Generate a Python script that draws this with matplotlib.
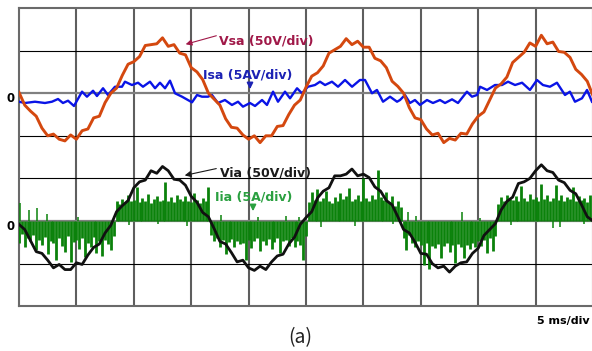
import numpy as np
import matplotlib
matplotlib.use("Agg")
import matplotlib.pyplot as plt

# ---- scope settings -------------------------------------------------------
time_per_div_ms = 5.0
volt_per_div = 50.0
amp_per_div = 5.0
n_xdiv = 10
n_ydiv = 7
top_zero = 5.0      # channel zero of upper pair (in divisions from bottom)
bottom_zero = 2.0   # channel zero of lower pair

# ---- source voltage Vsa (V), sampled every 0.5 ms ------------------------
v_step_ms = 0.5
vsa = [1, -14, -21, -27, -41, -50, -48, -54, -56, -49, -54, -44, -42, -29, -27, -11,
       0, 6, 21, 34, 37, 43, 56, 57, 58, 65, 55, 57, 47, 45, 30, 25,
       16, 0, -7, -14, -30, -40, -41, -49, -54, -50, -58, -50, -50, -39, -38, -25,
       -14, -8, 7, 20, 24, 32, 47, 51, 55, 64, 57, 61, 54, 54, 41, 38,
       30, 14, 8, 0, -17, -29, -31, -42, -49, -47, -58, -53, -55, -47, -48, -36,
       -27, -22, -8, 6, 11, 19, 36, 42, 48, 59, 55, 68, 58, 60, 49, 48,
       42, 28, 22, 14, -3]

# ---- source current Isa (A), ripple vertices ------------------------------
isa_t = [0.0, 0.52, 1.39, 2.26, 2.87, 3.40, 3.83, 4.27, 4.79, 5.49, 5.92, 6.45, 6.79,
         7.32, 7.75, 8.36, 8.97, 9.23, 9.84, 10.37, 10.80, 11.41, 11.85, 12.28, 12.72,
         13.15, 13.59, 14.20, 15.07, 15.51, 15.94, 16.46, 16.81, 17.33, 17.94, 18.55,
         19.08, 19.51, 20.12, 20.56, 21.17, 21.60, 22.13, 22.56, 23.17, 23.61, 24.22,
         24.65, 25.17, 25.78, 26.22, 26.66, 27.26, 27.79, 28.40, 29.01, 29.70, 30.14,
         30.75, 31.18, 31.71, 32.32, 32.93, 33.19, 33.62, 34.06, 34.49, 34.93, 35.54,
         36.06, 36.67, 37.11, 37.72, 38.24, 39.02, 39.46, 39.90, 40.16, 40.77, 41.46,
         42.07, 42.60, 43.21, 43.82, 44.51, 45.12, 45.64, 46.25, 46.86, 47.56, 47.99,
         48.43, 49.04, 49.48, 49.91]
isa_a = [-1.00, -1.15, -1.00, -1.15, -1.00, -0.68, -1.15, -0.88, -1.50, 0.18, -0.41, 0.29,
         -0.33, 0.58, -0.21, 0.76, 0.76, 1.35, 0.96, 1.23, 0.76, 1.35, 0.58, 1.23, 0.58,
         1.47, -0.01, -0.41, -1.07, -0.21, -0.41, -0.41, -0.21, -1.15, -0.80, -1.38,
         -1.00, -1.58, -1.15, -1.50, -0.80, -1.38, 0.18, -1.00, 0.18, -0.60, 0.58,
         -0.01, 0.76, 0.96, 1.35, 0.96, 1.35, 0.76, 1.55, 0.76, 1.55, 1.55,
         -0.01, 0.38, -1.00, -0.41, -1.00, -0.80, -0.21, -1.15, -0.80, -1.38, -0.80,
         -1.15, -0.80, -1.15, -0.72, -1.15, 0.18, -0.41, -0.21, 0.76, 0.38, 0.96,
         0.96, 1.35, 0.96, 1.23, 0.38, 1.55, 0.96, 0.76, 1.23, -0.21, 0.18,
         -1.00, -0.60, 0.38, -1.00]

# ---- inverter voltage Via (V), sampled every 0.5 ms -----------------------
via = [-4, -10, -23, -36, -38, -46, -55, -51, -57, -57, -49, -51, -40, -31, -27, -14,
       -5, 11, 18, 24, 39, 46, 48, 59, 56, 64, 59, 49, 48, 42, 29, 22,
       10, 5, -9, -24, -27, -37, -48, -46, -55, -58, -53, -57, -48, -41, -39, -27,
       -19, -4, 4, 11, 27, 35, 39, 53, 53, 55, 61, 53, 55, 51, 40, 35,
       24, 19, 5, -10, -14, -25, -38, -39, -50, -55, -53, -60, -53, -49, -48, -38,
       -32, -17, -10, -3, 13, 23, 28, 44, 46, 50, 59, 66, 59, 57, 48, 45,
       36, 32, 19, 5, 0]

# ---- inverter current Iia (A), switching excursions every 0.25 ms --------
i_step_ms = 0.25
iia = [-2.6, -1.5, -3.1, -2.0, -2.4, -1.6, -3.4, -2.2, -2.8, -1.9, -3.9, -2.3, -2.6, -4.6,
       -2.0, -2.9, -3.6, -1.8, -4.8, -2.5, -2.2, -3.3, -2.0, -4.2, -2.6, -3.0, -1.9, -3.8,
       -2.4, -4.1, -2.2, -2.7, -3.4, -1.8,
       2.4, 2.0, 2.6, 2.2, 3.1, 2.3, 2.5, 4.0, 2.2, 2.7, 2.4, 3.2, 2.1, 2.6, 2.9, 2.3,
       2.5, 4.6, 2.4, 2.8, 2.2, 3.0, 2.6, 2.3, 2.9, 2.4, 2.2, 3.3, 2.5, 2.1, 2.7, 2.4, 4.0,
       -1.6, -2.4, -2.0, -3.1, -2.2, -3.9, -2.5, -2.1, -3.0, -2.3, -2.7, -2.6, -4.6, -2.2,
       -3.2, -2.4, -2.0, -3.5, -2.3, -2.8, -2.1, -3.3, -2.5, -2.0, -3.7, -2.4, -2.2, -2.9,
       -2.0, -3.1, -2.4, -2.8, -4.6, -1.8,
       2.2, 3.4, 2.5, 3.8, 2.3, 2.7, 3.5, 2.4, 2.1, 2.8, 2.4, 3.3, 2.6, 2.9, 3.9, 2.3,
       2.6, 3.1, 2.4, 5.0, 2.7, 2.3, 3.0, 2.6, 6.0, 2.8, 2.5, 3.4, 2.2, 2.9, 1.8, 2.4, 1.6,
       -2.0, -3.4, -1.7, -2.6, -3.0, -2.4, -2.8, -5.2, -2.6, -5.6, -2.9, -3.2, -2.7, -4.4,
       -2.9, -2.6, -3.6, -2.8, -4.9, -2.7, -3.1, -4.4, -2.8, -3.3, -2.6, -3.0, -2.4, -2.9,
       -2.2, -3.8, -2.0, -3.5, -1.8,
       2.0, 2.8, 2.4, 3.0, 2.6, 2.5, 2.9, 2.3, 4.1, 2.7, 2.4, 3.2, 2.6, 2.8, 2.4, 4.4,
       2.6, 3.0, 2.3, 2.7, 4.2, 2.5, 3.1, 2.4, 2.8, 2.6, 4.0, 2.3, 2.9, 2.5, 2.7, 2.2,
       3.0, 2.4]
# opposite-polarity switching spikes (time ms, current A)
iia_back_t = [0.1, 0.9, 1.6, 2.4, 5.1, 9.6, 12.1, 14.6, 17.6, 20.8, 23.3, 24.4,
              26.3, 29.3, 32.6, 33.9, 34.6, 38.6, 40.2, 42.9, 46.5, 47.1, 49.2]
iia_back_a = [2.1, 1.3, 1.5, 0.8, 0.5, -0.5, -0.4, -0.6, 0.7, 0.5, 0.6, 0.5,
              -0.7, -0.6, -0.4, 1.0, 0.6, 1.0, 0.4, -0.5, -0.8, -0.7, -0.4]

# ---- colours ----------------------------------------------------------------
c_vsa = "#d4480f"
c_isa = "#0a14e6"
c_via = "#111111"
c_iia = "#0b820b"
c_vsa_lbl = "#a01848"
c_isa_lbl = "#1c22b4"
c_iia_lbl = "#2aa040"

plt.rcParams["font.family"] = ["DejaVu Sans"]

W, H = 592, 351
fig = plt.figure(figsize=(W / 100, H / 100), dpi=100)
left_px, right_px, top_px, bot_px = 19, 593, 8, 306.2
ax = fig.add_axes([left_px / W, 1 - bot_px / H, (right_px - left_px) / W,
                   (bot_px - top_px) / H])
t_end = n_xdiv * time_per_div_ms
ax.set_xlim(0, t_end)
ax.set_ylim(0, n_ydiv)
ax.set_xticks([])
ax.set_yticks([])
for sp in ax.spines.values():
    sp.set_color("#6a6a6a")
    sp.set_linewidth(1.5)

# graticule
for k in range(1, n_xdiv):
    ax.axvline(k * time_per_div_ms, color="#5e5e5e", lw=1.5, zorder=1)
for k in range(1, n_ydiv):
    if k in (top_zero, bottom_zero):
        ax.axhline(k, color="#808080", lw=1.6, zorder=1)
    else:
        ax.axhline(k, color="black", lw=0.8, zorder=1)

# traces
t_v = np.arange(len(vsa)) * v_step_ms
t_i = np.arange(len(iia)) * i_step_ms
vsa_arr = np.array(vsa, float)
via_arr = np.array(via, float)
iia_arr = np.array(iia, float)

ax.plot(isa_t, top_zero + np.array(isa_a) / amp_per_div, color=c_isa, lw=1.7, zorder=3)
ax.plot(t_v, top_zero + vsa_arr / volt_per_div, color=c_vsa, lw=2.1, zorder=4)

ax.vlines(t_i, bottom_zero, bottom_zero + iia_arr / amp_per_div, color=c_iia, lw=2.0, zorder=3)
ax.vlines(iia_back_t, bottom_zero, bottom_zero + np.array(iia_back_a) / amp_per_div,
          color=c_iia, lw=1.1, zorder=3)
ax.plot(t_v, bottom_zero + via_arr / volt_per_div, color=c_via, lw=2.0, zorder=4)

# channel labels with pointers
def px(x, y):
    return ((x - left_px) / (right_px - left_px) * t_end,
            (bot_px - y) / (bot_px - top_px) * n_ydiv)

lbl_kw = dict(fontsize=9, fontweight="bold", va="center", ha="left", zorder=6)
ax.text(*px(219, 41), "Vsa (50V/div)", color=c_vsa_lbl, **lbl_kw)
ax.annotate("", xy=px(183, 45), xytext=px(219, 35),
            arrowprops=dict(arrowstyle="-|>", color=c_vsa_lbl, lw=0.8, mutation_scale=9))
ax.text(*px(203, 75), "Isa (5AV/div)", color=c_isa_lbl, **lbl_kw)
ax.annotate("", xy=px(250, 92), xytext=px(250, 82),
            arrowprops=dict(arrowstyle="-|>", color=c_isa_lbl, lw=1.2, mutation_scale=9))
ax.text(*px(220, 173), "Via (50V/div)", color="#1a1a1a", **lbl_kw)
ax.annotate("", xy=px(182, 176), xytext=px(219, 168),
            arrowprops=dict(arrowstyle="-|>", color="#1a1a1a", lw=0.8, mutation_scale=9))
ax.text(*px(215, 197), "Iia (5A/div)", color=c_iia_lbl, **lbl_kw)
ax.annotate("", xy=px(253, 214), xytext=px(253, 204),
            arrowprops=dict(arrowstyle="-|>", color=c_iia_lbl, lw=1.2, mutation_scale=9))

# zero markers, time base and caption
fig.text(11 / W, 1 - 99 / H, "0", fontsize=8.5, fontweight="bold", ha="center", va="center")
fig.text(11 / W, 1 - 227 / H, "0", fontsize=8.5, fontweight="bold", ha="center", va="center")
fig.text(590 / W, 1 - 321 / H, "5 ms/div", fontsize=8, fontweight="bold",
         ha="right", va="center")
fig.text(300 / W, 1 - 338 / H, "(a)", fontsize=14, ha="center", va="center",
         family=["Noto Sans CJK KR", "DejaVu Sans"], color="#222222")

fig.savefig("out.png", dpi=100)
